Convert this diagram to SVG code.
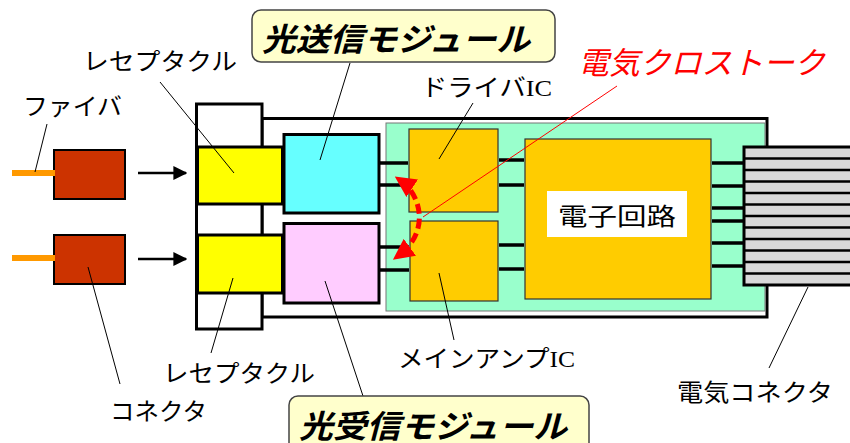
<svg xmlns="http://www.w3.org/2000/svg" width="850" height="443" viewBox="0 0 850 443">
<defs>
<style>
.lbl{font-family:"Noto Sans CJK JP","Noto Sans",sans-serif;font-size:24px;fill:#000}
.ic{font-family:"Liberation Serif",serif}
.title{font-family:"Noto Sans CJK JP",sans-serif;font-size:32px;font-weight:bold;font-style:italic;fill:#000}
.red{font-family:"Noto Sans CJK JP",sans-serif;font-size:31px;font-style:italic;fill:#ff0000}
.lead{stroke:#000;stroke-width:1;fill:none}
.wire{stroke:#000;stroke-width:3.5;fill:none}
.chip{fill:#ffcc00;stroke:#333;stroke-width:1.2}
.blk{stroke:#000;stroke-width:3}
.conn{fill:#cc3300;stroke:#000;stroke-width:2}
.fiber{stroke:#ff9900;stroke-width:6}
</style>
<marker id="ah" viewBox="0 0 10 10" refX="9" refY="5" markerWidth="14" markerHeight="14" markerUnits="userSpaceOnUse" orient="auto"><path d="M0,0 L10,5 L0,10 z" fill="#000"/></marker>
<marker id="rh" viewBox="0 0 10 10" refX="7" refY="5" markerWidth="21" markerHeight="21" markerUnits="userSpaceOnUse" orient="auto-start-reverse"><path d="M0,0 L10,5 L0,10 z" fill="#ff0000"/></marker>
</defs>
<rect width="850" height="443" fill="#fff"/>

<g id="casing"><rect x="262" y="118.5" width="505" height="198.5" fill="#fff" stroke="#000" stroke-width="3"/></g>
<g id="board"><rect x="386" y="123" width="379" height="188" fill="#99ffcc" stroke="#777" stroke-width="1"/></g>
<g id="housing"><rect x="196.5" y="104" width="65.5" height="225" fill="#fff" class="blk"/></g>

<g id="fiberconn1"><rect class="conn" x="54" y="150" width="71" height="49"/></g>
<g id="fiberconn2"><rect class="conn" x="54" y="235" width="71" height="49"/></g>
<g id="receptacle1"><rect x="197.5" y="147" width="85" height="57" fill="#ffff00" class="blk"/></g>
<g id="receptacle2"><rect x="197.5" y="235" width="85" height="58" fill="#ffff00" class="blk"/></g>
<g id="tx"><rect x="284" y="134.5" width="95" height="78.5" fill="#66ffff" class="blk"/></g>
<g id="rx"><rect x="284" y="223.5" width="95" height="79.5" fill="#ffccff" class="blk"/></g>
<g id="driver"><rect class="chip" x="409" y="129" width="89" height="83"/></g>
<g id="amp"><rect class="chip" x="410" y="221" width="88" height="80"/></g>
<g id="circuit">
<rect class="chip" x="525" y="139" width="186" height="160"/>
<rect x="547" y="191" width="140" height="46" fill="#fff"/>
<text class="lbl" x="617" y="225" font-size="30" text-anchor="middle" textLength="118" lengthAdjust="spacingAndGlyphs">電子回路</text>
</g>
<g id="elecconn">
<rect x="744" y="147" width="110" height="138" fill="#d9d9d9" stroke="#000" stroke-width="3"/>
<g stroke="#000" stroke-width="2.5">
<line x1="744" y1="158.5" x2="850" y2="158.5"/><line x1="744" y1="170" x2="850" y2="170"/>
<line x1="744" y1="181.5" x2="850" y2="181.5"/><line x1="744" y1="193" x2="850" y2="193"/>
<line x1="744" y1="204.5" x2="850" y2="204.5"/><line x1="744" y1="216" x2="850" y2="216"/>
<line x1="744" y1="227.5" x2="850" y2="227.5"/><line x1="744" y1="239" x2="850" y2="239"/>
<line x1="744" y1="250.5" x2="850" y2="250.5"/><line x1="744" y1="262" x2="850" y2="262"/>
<line x1="744" y1="273.5" x2="850" y2="273.5"/>
</g>
</g>

<g id="connectors">
<line class="fiber" x1="12" y1="173" x2="55" y2="173"/>
<line class="fiber" x1="12" y1="258" x2="55" y2="258"/>
<line x1="138" y1="173" x2="186" y2="173" stroke="#000" stroke-width="2.5" marker-end="url(#ah)"/>
<line x1="138" y1="259" x2="186" y2="259" stroke="#000" stroke-width="2.5" marker-end="url(#ah)"/>
<g class="wire">
<line x1="380" y1="163" x2="408" y2="163"/><line x1="380" y1="185" x2="408" y2="185"/>
<line x1="380" y1="247" x2="409" y2="247"/><line x1="380" y1="270" x2="409" y2="270"/>
<line x1="499" y1="160" x2="524" y2="160"/><line x1="499" y1="185" x2="524" y2="185"/>
<line x1="499" y1="245" x2="524" y2="245"/><line x1="499" y1="269" x2="524" y2="269"/>
<line x1="712" y1="163" x2="743" y2="163"/><line x1="712" y1="186" x2="743" y2="186"/>
<line x1="712" y1="208" x2="743" y2="208"/><line x1="712" y1="221" x2="743" y2="221"/>
<line x1="712" y1="243" x2="743" y2="243"/><line x1="712" y1="266" x2="743" y2="266"/>
</g>
<g class="lead">
<line x1="47" y1="124" x2="35" y2="172"/>
<line x1="160" y1="82" x2="234" y2="173"/>
<line x1="350" y1="63" x2="320" y2="160"/>
<line x1="473" y1="103" x2="439" y2="159"/>
<line x1="439" y1="273" x2="454" y2="340"/>
<line x1="808" y1="287" x2="769" y2="368"/>
<line x1="233" y1="278" x2="211" y2="353"/>
<line x1="88" y1="267" x2="120" y2="384"/>
<line x1="325" y1="281" x2="363" y2="396"/>
</g>
<line x1="617" y1="86" x2="423" y2="217" stroke="#ff0000" stroke-width="1"/>
<path d="M400 180 C421 194 431 232 398 256" fill="none" stroke="#ff0000" stroke-width="5" stroke-dasharray="10 5" marker-start="url(#rh)" marker-end="url(#rh)"/>
</g>

<g id="txlabel">
<rect x="252" y="10" width="303" height="52" rx="9" fill="#ffffcc" stroke="#444" stroke-width="1.5"/>
<text class="title" x="262" y="51" textLength="268" lengthAdjust="spacingAndGlyphs">光送信モジュール</text>
</g>
<g id="rxlabel">
<rect x="289" y="396" width="300" height="60" rx="9" fill="#ffffcc" stroke="#444" stroke-width="1.5"/>
<text class="title" x="299" y="438" textLength="268" lengthAdjust="spacingAndGlyphs">光受信モジュール</text>
</g>

<g id="labels">
<text class="lbl" x="23" y="115" textLength="99" lengthAdjust="spacingAndGlyphs">ファイバ</text>
<text class="lbl" x="83" y="70" textLength="154" lengthAdjust="spacingAndGlyphs">レセプタクル</text>
<text class="lbl" x="421" y="96" textLength="131" lengthAdjust="spacingAndGlyphs">ドライバ<tspan class="ic">IC</tspan></text>
<text class="red" x="578" y="74" textLength="247" lengthAdjust="spacingAndGlyphs">電気クロストーク</text>
<text class="lbl" x="398" y="367" textLength="177" lengthAdjust="spacingAndGlyphs">メインアンプ<tspan class="ic">IC</tspan></text>
<text class="lbl" x="677" y="401" font-size="26" textLength="156" lengthAdjust="spacingAndGlyphs">電気コネクタ</text>
<text class="lbl" x="163" y="382" textLength="152" lengthAdjust="spacingAndGlyphs">レセプタクル</text>
<text class="lbl" x="110" y="420" textLength="97" lengthAdjust="spacingAndGlyphs">コネクタ</text>
</g>
</svg>
